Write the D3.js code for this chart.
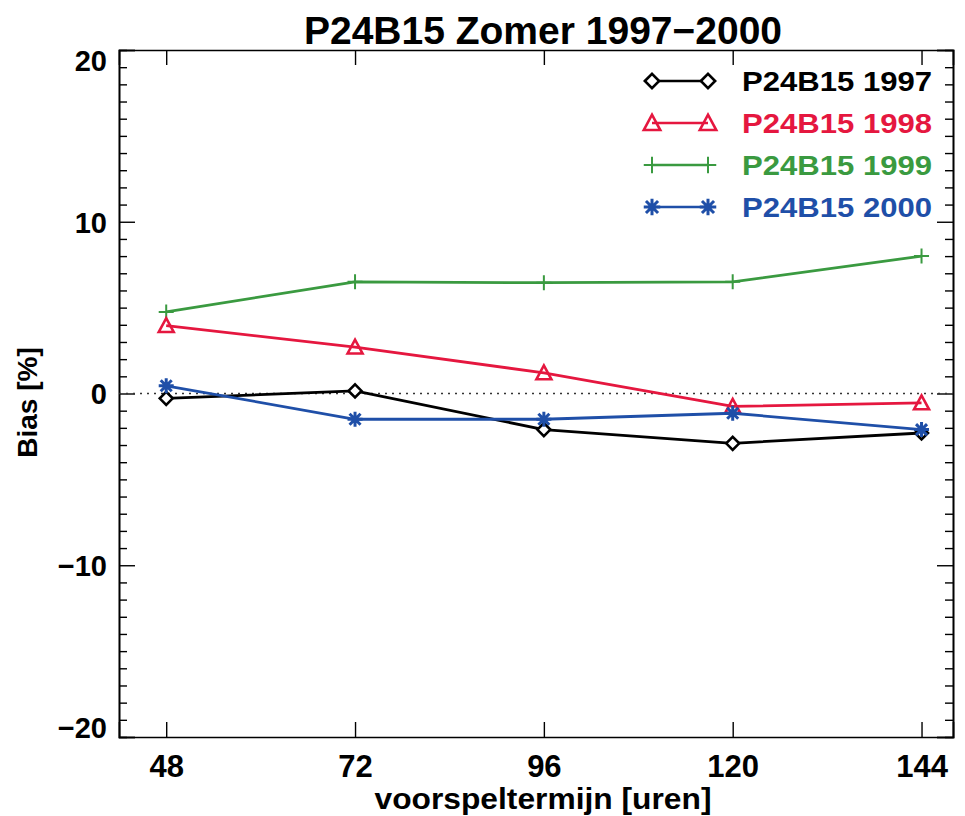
<!DOCTYPE html>
<html><head><meta charset="utf-8">
<script src="https://cdn.jsdelivr.net/npm/d3@7"></script>
<style>body{margin:0;background:#fff}svg{display:block}</style>
</head><body>
<svg id="c" width="965" height="816"></svg>
<script>
const hours = [48, 72, 96, 120, 144];
const seriesNames = ["P24B15 1997", "P24B15 1998", "P24B15 1999", "P24B15 2000"];
const bias1997 = [-0.28, 0.15, -2.1, -2.9, -2.3];
const bias1998 = [3.95, 2.7, 1.2, -0.75, -0.55];
const bias1999 = [4.75, 6.5, 6.45, 6.5, 8.0];
const bias2000 = [0.45, -1.5, -1.5, -1.15, -2.1];
const yTicks = [20, 10, 0, -10, -20];
const seriesColors = ["#000000", "#e5173f", "#3a9a40", "#1f4fa8"];
const seriesSymbols = ["diamond", "triangle", "plus", "asterisk"];
const titleText = "P24B15 Zomer 1997\u22122000";
const xTitle = "voorspeltermijn [uren]";
const yTitle = "Bias [%]";

const series = [bias1997, bias1998, bias1999, bias2000].map((v, i) => ({
  name: seriesNames[i], values: v, color: seriesColors[i], symbol: seriesSymbols[i]
}));

const svg = d3.select("#c");
const L = 119, R = 953, T = 50, B = 737;
const x = d3.scaleLinear().domain([42, 148]).range([L, R]);
const y = d3.scaleLinear().domain([-20, 20]).range([B, T]);
const font = "'Liberation Sans', Arial, Helvetica, sans-serif";

// title
svg.append("text").attr("x", 543).attr("y", 44).attr("text-anchor", "middle")
  .attr("font-family", font).attr("font-weight", "bold").attr("font-size", 39)
  .text(titleText);

function style(g) {
  g.select(".domain").attr("stroke", "#000").attr("stroke-width", 1.6);
  g.selectAll(".tick line").attr("stroke", "#000").attr("stroke-width", 1.4);
  g.selectAll(".tick text").attr("fill", "#000").attr("stroke", "none")
    .attr("font-weight", "bold").attr("font-size", 30).attr("font-family", font);
}
const axB = d3.axisBottom(x).tickValues(hours).tickSize(-15).tickFormat(d3.format("d"));
const axT = d3.axisTop(x).tickValues(hours).tickSize(-15).tickFormat("");
const axL = d3.axisLeft(y).tickValues(yTicks).tickSize(-16).tickPadding(12).tickFormat(d => d < 0 ? "\u2212" + Math.abs(d) : d);
const axR = d3.axisRight(y).tickValues(yTicks).tickSize(-16).tickFormat("");
const minor = d3.range(-20, 21, 1).filter(v => v % 10 !== 0);
const axLm = d3.axisLeft(y).tickValues(minor).tickSize(-8).tickFormat("");
const axRm = d3.axisRight(y).tickValues(minor).tickSize(-8).tickFormat("");

const gB = svg.append("g").attr("transform", `translate(0,${B})`).call(axB).call(style);
gB.selectAll(".tick text").attr("y", 40).attr("dy", null).attr("font-size", 31);
svg.append("g").attr("transform", `translate(0,${T})`).call(axT).call(style);
const gL = svg.append("g").attr("transform", `translate(${L},0)`).call(axL).call(style);
gL.selectAll(".tick text").attr("font-size", 29)
  .attr("dy", d => d === 20 ? "0.72em" : d === -20 ? "0.02em" : "0.36em");
svg.append("g").attr("transform", `translate(${R},0)`).call(axR).call(style);
svg.append("g").attr("transform", `translate(${L},0)`).call(axLm).call(style);
svg.append("g").attr("transform", `translate(${R},0)`).call(axRm).call(style);

// zero line dotted
svg.append("line").attr("x1", L).attr("x2", R).attr("y1", y(0)).attr("y2", y(0))
  .attr("stroke", "#333").attr("stroke-width", 1.5).attr("stroke-dasharray", "2,5");

// axis titles
svg.append("text").attr("x", 543).attr("y", 809).attr("text-anchor", "middle")
  .attr("font-family", font).attr("font-weight", "bold").attr("font-size", 29)
  .attr("textLength", 337).attr("lengthAdjust", "spacingAndGlyphs").text(xTitle);
svg.append("text").attr("transform", `translate(37,${y(0)+9}) rotate(-90)`).attr("text-anchor", "middle")
  .attr("font-family", font).attr("font-weight", "bold").attr("font-size", 28).text(yTitle);

// markers
function drawSymbol(g, sym, cx, cy, color, k) {
  k = k || 1;
  if (sym === "diamond") {
    const s = 6.5 * k;
    g.append("path").attr("d", `M${cx-s},${cy}L${cx},${cy-s}L${cx+s},${cy}L${cx},${cy+s}Z`)
      .attr("fill", "#fff").attr("stroke", color).attr("stroke-width", 2.6);
  } else if (sym === "triangle") {
    const s = 7.5 * k;
    g.append("path").attr("d", `M${cx-s},${cy+s*0.85}L${cx},${cy-s}L${cx+s},${cy+s*0.85}Z`)
      .attr("fill", "none").attr("stroke", color).attr("stroke-width", 2.6);
  } else if (sym === "plus") {
    const s = 7.5 * k;
    g.append("path").attr("d", `M${cx-s},${cy}H${cx+s}M${cx},${cy-s}V${cy+s}`)
      .attr("fill", "none").attr("stroke", color).attr("stroke-width", 2);
  } else {
    const s = 7.5 * k, d = 5.5 * k;
    g.append("path").attr("d", `M${cx-s},${cy}H${cx+s}M${cx-d},${cy-d}L${cx+d},${cy+d}M${cx-d},${cy+d}L${cx+d},${cy-d}M${cx},${cy-s}V${cy+s}`)
      .attr("fill", "none").attr("stroke", color).attr("stroke-width", 3);
  }
}

const line = d3.line().x((d, i) => x(hours[i])).y(d => y(d));
const order = [2, 1, 0, 3];
order.forEach(k => {
  const s = series[k];
  const g = svg.append("g");
  g.append("path").datum(s.values).attr("d", line).attr("fill", "none")
    .attr("stroke", s.color).attr("stroke-width", 2.8).attr("stroke-linejoin", "round");
  s.values.forEach((v, i) => drawSymbol(g, s.symbol, x(hours[i]), y(v), s.color));
});

// legend
const legY = [81, 123, 165, 207];
series.forEach((s, i) => {
  const g = svg.append("g");
  const yy = legY[i];
  g.append("line").attr("x1", 652).attr("x2", 708).attr("y1", yy).attr("y2", yy)
    .attr("stroke", s.color).attr("stroke-width", 2.6);
  drawSymbol(g, s.symbol, 652, yy, s.color, 1.1);
  drawSymbol(g, s.symbol, 708, yy, s.color, 1.1);
  g.append("text").attr("x", 742).attr("y", yy + 10).attr("font-family", font)
    .attr("font-weight", "bold").attr("font-size", 28).attr("fill", s.color)
    .attr("textLength", 190).attr("lengthAdjust", "spacingAndGlyphs").text(s.name);
});
</script>
</body></html>
